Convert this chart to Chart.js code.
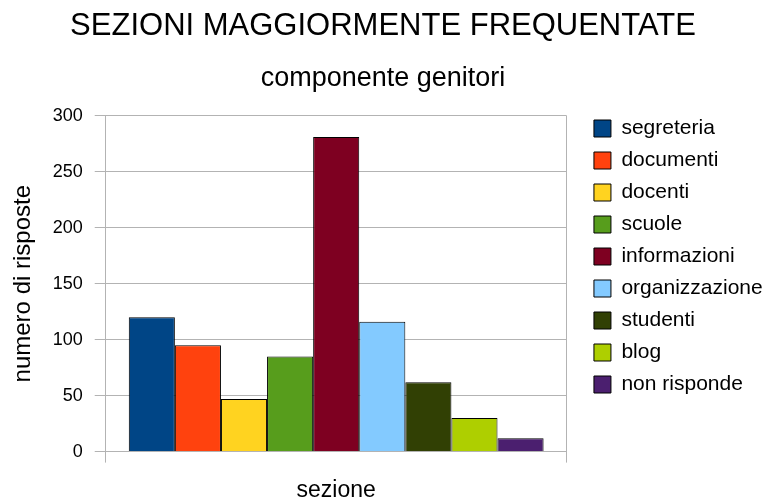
<!DOCTYPE html>
<html>
<head>
<meta charset="utf-8">
<script src="https://cdn.jsdelivr.net/npm/chart.js@4.4.0/dist/chart.umd.min.js"></script>
<style>
    html, body { margin: 0; padding: 0; background: #fff; }
    #wrap { width: 766px; height: 500px; position: relative; }
</style>
</head>
<body>
<div id="wrap"><canvas id="grafico"></canvas></div>
<script>
// Dati
const sezioni = ['segreteria', 'documenti', 'docenti', 'scuole', 'informazioni',
    'organizzazione', 'studenti', 'blog', 'non risponde'];
const risposte = [120, 95, 47, 85, 281, 116, 62, 30, 12];
const colori = ['#004586', '#ff420e', '#ffd320', '#579d1c', '#7e0021',
    '#83caff', '#314004', '#aecf00', '#4b1f6f'];
const categorie = [''];
const tickY = [0, 50, 100, 150, 200, 250, 300];

const FONT = '"Liberation Sans", Arial, sans-serif';

// Una serie per ogni sezione, tutte nella stessa categoria
const datasets = sezioni.map((nome, i) => ({
    label: nome,
    data: [risposte[i]],
    backgroundColor: colori[i],
    borderColor: '#000000',
    borderWidth: 1,
    barPercentage: 1.0,
    categoryPercentage: 0.9
}));

const ctx = document.getElementById('grafico').getContext('2d');
new Chart(ctx, {
    type: 'bar',
    data: {
        labels: categorie,
        datasets: datasets
    },
    options: {
        responsive: true,
        maintainAspectRatio: false,
        animation: false,
        layout: {
            padding: { left: -6.7, right: -6.7, top: 13, bottom: 0 }
        },
        plugins: {
            title: {
                display: true,
                text: 'SEZIONI MAGGIORMENTE FREQUENTATE',
                color: '#000',
                font: { family: FONT, size: 31, weight: 'normal', lineHeight: 0.9 },
                padding: { top: 0, bottom: 0 }
            },
            subtitle: {
                display: true,
                text: 'componente genitori',
                color: '#000',
                font: { family: FONT, size: 27, weight: 'normal' },
                padding: { top: 21, bottom: 21.5 }
            },
            legend: {
                position: 'right',
                align: 'center',
                maxWidth: 220,
                labels: {
                    color: '#000',
                    font: { family: FONT, size: 21 },
                    boxWidth: 17,
                    boxHeight: 17,
                    padding: 11
                }
            },
            tooltip: { enabled: false }
        },
        scales: {
            x: {
                grid: {
                    display: true,
                    color: '#b3b3b3',
                    tickLength: 11
                },
                border: { color: '#b3b3b3' },
                ticks: { display: false },
                title: {
                    display: true,
                    text: 'sezione',
                    color: '#000',
                    font: { family: FONT, size: 23, lineHeight: 0.8 },
                    padding: { top: 19, bottom: 0 }
                }
            },
            y: {
                min: 0,
                max: 300,
                afterBuildTicks: (scale) => {
                    scale.ticks = tickY.map(v => ({ value: v }));
                },
                grid: {
                    color: '#b3b3b3',
                    tickLength: 11
                },
                border: { color: '#b3b3b3' },
                ticks: {
                    color: '#000',
                    padding: 12,
                    font: { family: FONT, size: 18 }
                },
                title: {
                    display: true,
                    text: 'numero di risposte',
                    color: '#000',
                    font: { family: FONT, size: 24 },
                    padding: { top: 15.3, bottom: 3.3 }
                }
            },
            // asse vuoto: solo spazio tra grafico e legenda
            spazio: {
                type: 'linear',
                position: 'right',
                grid: { display: false },
                border: { display: false },
                ticks: { display: false },
                afterFit: (scale) => { scale.width = 16.3; }
            }
        }
    }
});
</script>
</body>
</html>
